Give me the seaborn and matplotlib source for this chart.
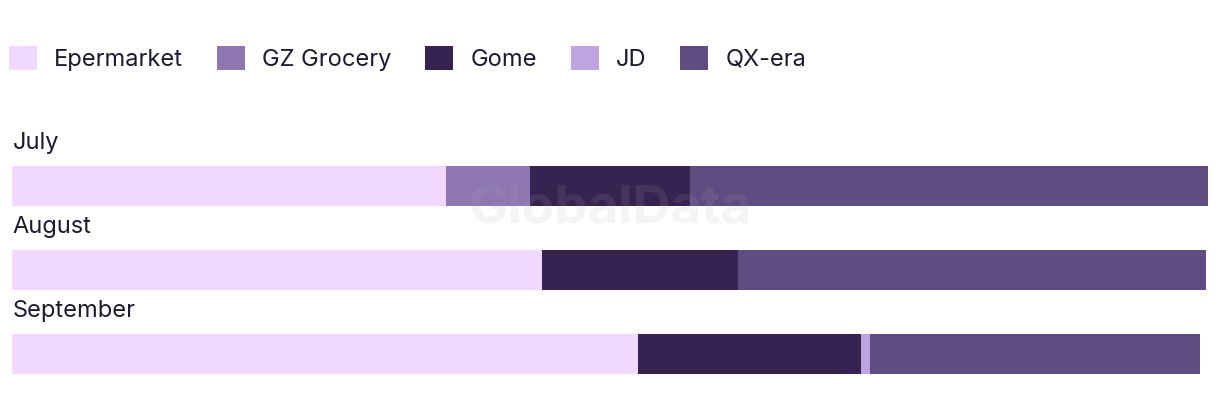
import matplotlib
matplotlib.use("Agg")
import matplotlib.pyplot as plt
from matplotlib.patches import Patch
import numpy as np
import pandas as pd
import seaborn as sns

# --------------------------------------------------------------------------- #
# Data (share of sales, %)
# --------------------------------------------------------------------------- #
months = ["July", "August", "September"]
retailers = ["Epermarket", "GZ Grocery", "Gome", "JD", "QX-era"]
epermarket = [36.3, 44.3, 52.3]
gz_grocery = [7.0, 0.0, 0.0]
gome = [13.4, 16.4, 18.7]
jd = [0.0, 0.0, 0.7]
qx_era = [43.3, 39.1, 27.6]

colors = ["#F1D8FE", "#8E76B0", "#362352", "#BEA4E0", "#5F4C80"]
TEXT = "#1b1a2e"

df = pd.DataFrame(
    {"month": months, "Epermarket": epermarket, "GZ Grocery": gz_grocery,
     "Gome": gome, "JD": jd, "QX-era": qx_era}
)
cum = df[retailers].cumsum(axis=1)

sns.set_theme(style="white")
plt.rcParams["font.family"] = ["Inter", "DejaVu Sans"]

W, H = 1220, 418
fig = plt.figure(figsize=(W / 100, H / 100), dpi=100)
ax = fig.add_axes([12 / W, 1 - 396 / H, 1196 / W, 252 / H])

# stacked bars: draw cumulative totals from the back to the front
for name, color in reversed(list(zip(retailers, colors))):
    sns.barplot(x=cum[name], y=df["month"], orient="h", color=color,
                width=40 / 84, saturation=1, linewidth=0, ax=ax)

ax.set_xlim(0, 100)
ax.set_ylim(2.5, -0.5)
ax.set_xlabel("")
ax.set_ylabel("")
ax.set_xticks([])
ax.set_yticks([])
sns.despine(ax=ax, left=True, bottom=True)

fs = 17
for i, m in enumerate(months):
    ax.text(0.05, i - 37 / 84, m, fontsize=fs, color=TEXT, ha="left",
            va="baseline", clip_on=False)

handles = [Patch(facecolor=c, edgecolor="none") for c in colors]
px = fs * 100 / 72
fig.legend(handles, retailers, loc="upper left",
           bbox_to_anchor=(9 / W, 1 - 46 / H), ncol=5, frameon=False,
           fontsize=fs, labelcolor=TEXT, borderpad=0, borderaxespad=0,
           handlelength=28 / px, handleheight=28 / px,
           handletextpad=17 / px, columnspacing=34 / px)

fig.text(610 / W, 1 - 210 / H, "GlobalData", fontsize=38, fontweight="bold",
         color="#b0b0b0", alpha=0.13, ha="center", va="center", zorder=10)

fig.savefig("out.png", dpi=100)
plt.close(fig)
